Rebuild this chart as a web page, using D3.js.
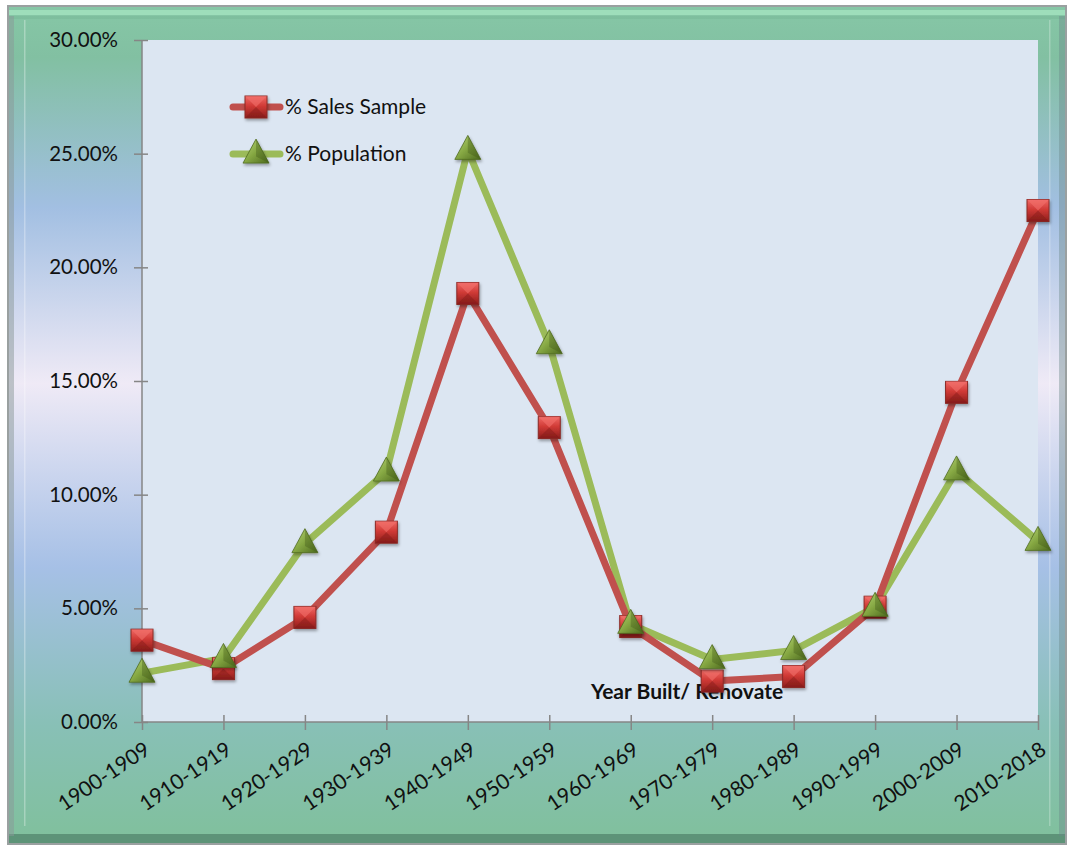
<!DOCTYPE html>
<html><head><meta charset="utf-8">
<script src="https://cdn.jsdelivr.net/npm/d3@7"></script>
<style>html,body{margin:0;padding:0;background:#fff;}svg{display:block;}</style>
</head><body>
<svg id="chart" width="1069" height="846"></svg>
<script>
const categories = ["1900-1909","1910-1919","1920-1929","1930-1939","1940-1949","1950-1959","1960-1969","1970-1979","1980-1989","1990-1999","2000-2009","2010-2018"];
const salesSample = [3.6, 2.35, 4.6, 8.35, 18.85, 12.95, 4.2, 1.8, 2.0, 5.05, 14.5, 22.5];
const population = [2.15, 2.8, 7.85, 11.0, 25.15, 16.6, 4.3, 2.75, 3.15, 5.05, 11.05, 7.95];
const yTicks = [0, 5, 10, 15, 20, 25, 30];
const seriesNames = ["% Sales Sample", "% Population"];
const axisTitle = "Year Built/ Renovate";

const svg = d3.select("#chart");
const plot = {left: 142, right: 1038, top: 40, bottom: 722};
const FONT = "Lato, 'Open Sans', sans-serif";

const defs = svg.append("defs");
const bg = defs.append("linearGradient").attr("id","bgGrad").attr("x1",0).attr("y1",0).attr("x2",0).attr("y2",1);
[[0,"#86c7a6"],[0.06,"#82c0a2"],[0.24,"#a2bfe2"],[0.45,"#efeaf6"],[0.67,"#a6c0e6"],[0.86,"#88c0b6"],[1,"#80c09c"]]
  .forEach(([o,c])=>bg.append("stop").attr("offset",o).attr("stop-color",c));
const sq = defs.append("linearGradient").attr("id","sqGrad").attr("x1",0).attr("y1",0).attr("x2",0).attr("y2",1);
[[0,"#f06a66"],[0.45,"#d03a36"],[1,"#8e1f1c"]].forEach(([o,c])=>sq.append("stop").attr("offset",o).attr("stop-color",c));
const tr = defs.append("linearGradient").attr("id","trGrad").attr("x1",0).attr("y1",0).attr("x2",1).attr("y2",1);
[[0,"#b9d77a"],[0.5,"#86a843"],[1,"#4d6a1e"]].forEach(([o,c])=>tr.append("stop").attr("offset",o).attr("stop-color",c));
const shadow = defs.append("filter").attr("id","shadow").attr("x","-50%").attr("y","-50%").attr("width","200%").attr("height","200%");
shadow.append("feDropShadow").attr("dx",1).attr("dy",2).attr("stdDeviation",1.5).attr("flood-color","#000").attr("flood-opacity",0.35);

// outer frame
svg.append("rect").attr("x",7).attr("y",5).attr("width",1060).attr("height",840).attr("fill","#9aa0a0");
svg.append("rect").attr("x",9).attr("y",7).attr("width",1056).attr("height",836).attr("fill","url(#bgGrad)");
svg.append("rect").attr("x",9).attr("y",10).attr("width",1056).attr("height",5).attr("fill","#a8e8c4").attr("opacity",0.7);
svg.append("rect").attr("x",9).attr("y",16).attr("width",1056).attr("height",3).attr("fill","#78b898").attr("opacity",0.5);
svg.append("rect").attr("x",9).attr("y",834).attr("width",1056).attr("height",9).attr("fill","#4e8068").attr("opacity",0.7);
svg.append("rect").attr("x",9).attr("y",16).attr("width",5).attr("height",820).attr("fill","#8a9898").attr("opacity",0.5);
svg.append("rect").attr("x",24).attr("y",20).attr("width",1.5).attr("height",806).attr("fill","#ffffff").attr("opacity",0.3);
svg.append("rect").attr("x",1059).attr("y",16).attr("width",6).attr("height",820).attr("fill","#6a8888").attr("opacity",0.4);
svg.append("rect").attr("x",1049).attr("y",20).attr("width",1.5).attr("height",806).attr("fill","#ffffff").attr("opacity",0.25);

// plot area
svg.append("rect").attr("x",plot.left).attr("y",plot.top).attr("width",plot.right-plot.left).attr("height",plot.bottom-plot.top).attr("fill","#dce6f2");

const x = d3.scalePoint().domain(categories).range([plot.left, plot.right]).padding(0);
const y = d3.scaleLinear().domain([0,30]).range([plot.bottom, plot.top]);

const yAxis = svg.append("g").attr("transform",`translate(${plot.left},0)`)
  .call(d3.axisLeft(y).tickValues(yTicks).tickSize(8).tickPadding(16).tickFormat(d=>d3.format(".2f")(d)+"%"));
yAxis.select(".domain").attr("stroke","#868686").attr("stroke-width",1.5).attr("d",`M0,${plot.top}V${plot.bottom}`);
yAxis.selectAll(".tick line").attr("stroke","#868686").attr("stroke-width",1.5).attr("x1",6);
yAxis.selectAll("text").attr("font-family",FONT).attr("font-size",20.5).attr("fill","#111");

const xAxis = svg.append("g").attr("transform",`translate(0,${plot.bottom})`)
  .call(d3.axisBottom(x).tickSize(8).tickPadding(10));
xAxis.select(".domain").attr("stroke","#868686").attr("stroke-width",1.5).attr("d",`M${plot.left},0H${plot.right}`);
xAxis.selectAll(".tick line").attr("stroke","#868686").attr("stroke-width",1.5).attr("y1",-7);
xAxis.selectAll("text").attr("font-family",FONT).attr("font-size",21).attr("fill","#111")
  .attr("text-anchor","end").attr("dy",0).attr("transform","translate(-1,16) rotate(-34)");

svg.append("text").attr("x",687).attr("y",699).attr("text-anchor","middle")
  .attr("font-family",FONT).attr("font-size",21).attr("font-weight","bold").attr("fill","#111").text(axisTitle);

const line = d3.line().x((d,i)=>x(categories[i])).y(d=>y(d));
const series = [
  {name: seriesNames[0], values: salesSample, color:"#c0504d", marker:"square"},
  {name: seriesNames[1], values: population, color:"#9bbb59", marker:"triangle"}
];

function drawMarker(g, type, cx, cy) {
  if (type === "square") {
    const s = 22;
    const m = g.append("g").attr("transform",`translate(${cx},${cy})`).attr("filter","url(#shadow)");
    m.append("rect").attr("x",-s/2).attr("y",-s/2).attr("width",s).attr("height",s).attr("fill","url(#sqGrad)").attr("stroke","#8a2a26").attr("stroke-width",1);
    m.append("path").attr("d",`M${-s/2},${-s/2}L0,0L${s/2},${-s/2}Z`).attr("fill","#f2706b").attr("opacity",0.6);
    m.append("path").attr("d",`M${-s/2},${s/2}L0,0L${s/2},${s/2}Z`).attr("fill","#7e1a17").attr("opacity",0.4);
  } else {
    const w = 26, h = 24;
    const m = g.append("g").attr("transform",`translate(${cx},${cy})`).attr("filter","url(#shadow)");
    m.append("path").attr("d",`M0,${-h*0.62}L${w/2},${h*0.38}L${-w/2},${h*0.38}Z`).attr("fill","url(#trGrad)").attr("stroke","#4f6b20").attr("stroke-width",0.8);
    m.append("path").attr("d",`M0,${-h*0.62}L${w/2},${h*0.38}L0,${h*0.1}Z`).attr("fill","#3e5516").attr("opacity",0.35);
  }
}

const linesG = svg.append("g");
series.slice().reverse().forEach(s=>{
  linesG.append("path").datum(s.values).attr("d",line).attr("fill","none")
    .attr("stroke",s.color).attr("stroke-width",7).attr("stroke-linejoin","round").attr("stroke-linecap","round");
});
const markG = svg.append("g");
series.forEach(s=>{
  s.values.forEach((v,i)=>drawMarker(markG, s.marker, x(categories[i]), y(v)));
});

const legend = svg.append("g");
series.forEach((s,i)=>{
  const ly = 107 + i*47;
  legend.append("line").attr("x1",233).attr("x2",280).attr("y1",ly).attr("y2",ly)
    .attr("stroke",s.color).attr("stroke-width",7).attr("stroke-linecap","round");
  drawMarker(legend, s.marker, 256, ly);
  legend.append("text").attr("x",285).attr("y",ly+7).attr("font-family",FONT).attr("font-size",21).attr("fill","#111").text(s.name);
});
</script>
</body></html>
